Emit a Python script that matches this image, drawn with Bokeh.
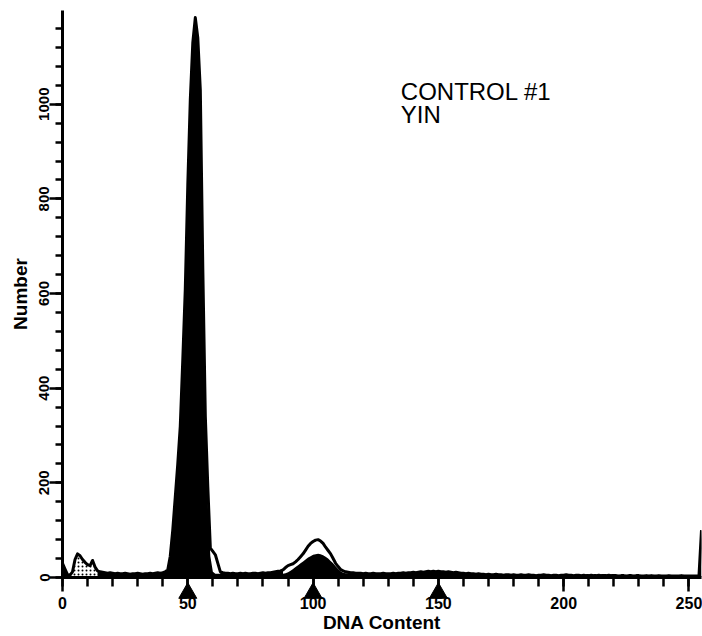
from bokeh.plotting import figure
from bokeh.models import Range1d, SingleIntervalTicker, Label
from bokeh.embed import file_html
from bokeh.resources import INLINE

# DNA content histogram, channels 0..255
channels = list(range(256))
counts = [
    # 0-15: debris
    30, 18, 6, 5, 12, 38, 50, 46, 38, 32, 27, 25, 36, 22, 14, 12,
    # 16-41
    11, 10, 9, 10, 9, 8, 9, 8, 8, 9, 8, 7, 8, 8, 9, 8, 7, 8, 8, 9, 8, 9, 10, 9, 10, 12,
    # 42-63: G0/G1 peak
    16, 45, 100, 170, 240, 320, 460, 610, 830, 1010, 1130, 1183, 1140, 1030, 650, 340,
    190, 62, 55, 48, 30, 12,
    # 64-87: S phase
    10, 9, 9, 8, 9, 8, 8, 9, 8, 9, 8, 8, 9, 9, 8, 9, 10, 9, 10, 10, 11, 12, 13, 14,
    # 88-114: G2/M peak
    16, 21, 25, 27, 29, 33, 38, 44, 50, 58, 66, 72, 76, 79, 80, 77, 72, 64, 57, 50,
    40, 30, 23, 17, 14, 12, 11,
    # 115-129
    10, 10, 9, 9, 9, 8, 9, 8, 8, 9, 8, 8, 8, 9, 8,
    # 130-159
    8, 8, 9, 8, 9, 9, 10, 9, 10, 10, 11, 10, 11, 12, 11, 12, 13, 12, 13, 12,
    13, 12, 12, 11, 12, 11, 10, 11, 10, 9,
    # 160-199
    9, 8, 9, 8, 8, 7, 8, 7, 7, 6, 7, 6, 6, 7, 6, 6, 5, 6, 6, 5,
    6, 5, 5, 6, 5, 5, 6, 5, 5, 4, 5, 5, 6, 5, 5, 4, 5, 5, 4, 5,
    # 200-254
    5, 6, 5, 5, 4, 5, 5, 4, 5, 4, 4, 5, 4, 4, 5, 4, 4, 4, 5, 4,
    4, 4, 3, 4, 4, 3, 4, 4, 3, 4, 4, 3, 3, 4, 3, 4, 3, 3, 4, 3,
    3, 3, 4, 3, 3, 3, 3, 4, 3, 3, 3, 3, 3, 3, 4,
    # 255: off-scale events
    100,
]

# Model fit of the G0/G1 and G2/M populations
g1_channels = list(range(42, 64))
g1_fit = [15, 45, 100, 170, 240, 320, 460, 610, 830, 1010, 1130, 1183, 1140, 1030,
          650, 340, 150, 45, 12, 8, 8, 8]
g2_channels = list(range(88, 115))
g2_fit = [8, 9, 11, 14, 18, 22, 26, 30, 34, 38, 42, 45, 48, 49, 50, 49, 47, 44, 40,
          35, 30, 24, 18, 13, 10, 9, 9]

# Debris region drawn stippled
debris_channels = list(range(3, 15))

# Peak position markers on the channel axis
peak_markers = [50, 100, 150]

x_ticks_interval = 50
y_ticks_interval = 200

FONT = "Liberation Sans"

p = figure(width=702, height=636, output_backend="svg", toolbar_location=None,
           x_range=Range1d(0, 255), y_range=Range1d(0, 1198),
           min_border_left=62, min_border_right=1, min_border_top=10,
           min_border_bottom=59)
p.outline_line_color = None
p.grid.visible = False
p.background_fill_color = "white"
p.border_fill_color = "white"

# histogram area
p.varea(x=channels, y1=0, y2=counts, fill_color="black")
# gaps between the fitted populations and the measured histogram
p.varea(x=g1_channels, y1=g1_fit, y2=counts[42:64], fill_color="white")
p.varea(x=g2_channels, y1=g2_fit, y2=counts[88:115], fill_color="white")
# stippled debris
p.varea(x=debris_channels, y1=0, y2=counts[3:15], fill_color="white",
        hatch_pattern="dot", hatch_color="black", hatch_scale=4, hatch_weight=1.2)
# histogram outline
p.line(channels, counts, line_color="black", line_width=3, line_join="round")

# peak markers below the axis
tri = p.scatter(x=peak_markers, y=-33, marker="triangle", size=18,
                fill_color="black", line_color="black")
tri.level = "overlay"

xa = p.xaxis[0]
xa.ticker = SingleIntervalTicker(interval=x_ticks_interval, num_minor_ticks=5)
xa.axis_label = "DNA Content"
ya = p.yaxis[0]
ya.ticker = SingleIntervalTicker(interval=y_ticks_interval, num_minor_ticks=5)
ya.axis_label = "Number"
ya.major_label_orientation = "vertical"

for ax in (xa, ya):
    ax.axis_line_width = 3
    ax.axis_line_color = "black"
    ax.major_tick_line_width = 2.5
    ax.minor_tick_line_width = 2.5
    ax.major_tick_line_color = "black"
    ax.minor_tick_line_color = "black"
    ax.major_tick_in = 0
    ax.minor_tick_in = 0
    ax.major_label_text_font = FONT
    ax.major_label_text_font_style = "bold"
    ax.major_label_text_color = "black"
    ax.axis_label_text_font = FONT
    ax.axis_label_text_font_style = "bold"
    ax.axis_label_text_font_size = "19px"
    ax.axis_label_text_color = "black"

xa.axis_label_standoff = 0
xa.major_tick_out = 14
xa.minor_tick_out = 9
xa.major_label_standoff = 5
xa.major_label_text_font_size = "16px"

ya.axis_label_standoff = 6
ya.major_tick_out = 13
ya.minor_tick_out = 7
ya.major_label_standoff = 0
ya.major_label_text_font_size = "15px"

for txt, yv in (("CONTROL #1", 1026), ("YIN", 978)):
    p.add_layout(Label(x=135, y=yv, text=txt, text_font=FONT, text_font_size="24px",
                       text_color="black", text_baseline="alphabetic"))

open("out.html", "w").write(file_html(p, INLINE))
